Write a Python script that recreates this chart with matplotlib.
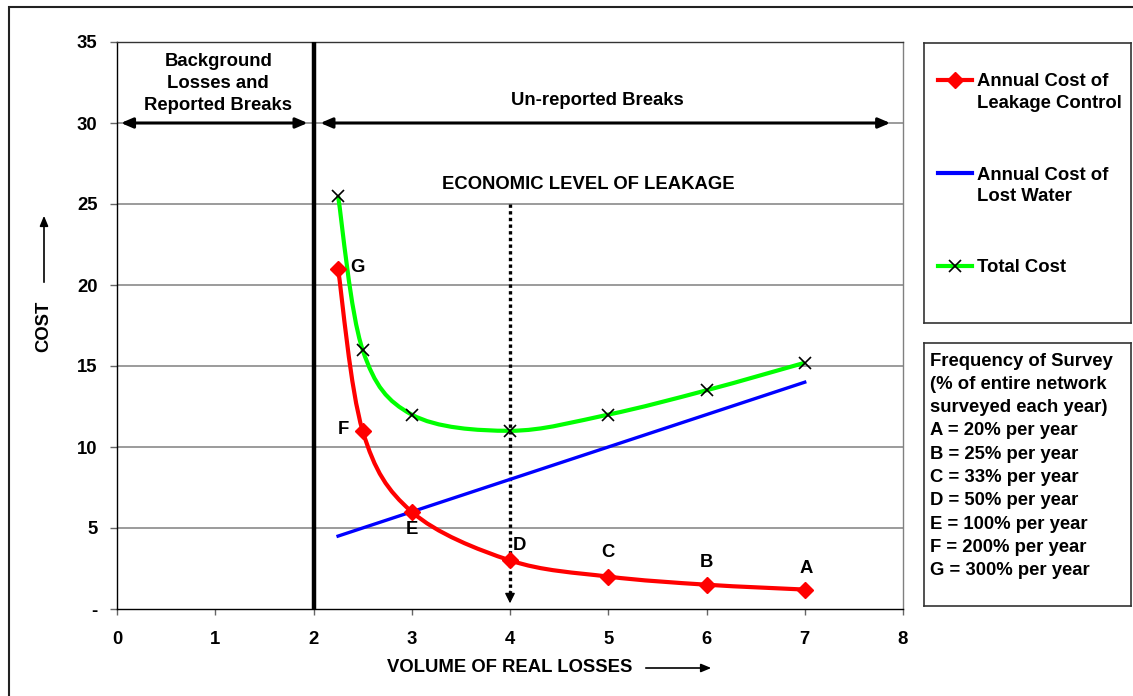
import matplotlib.pyplot as plt
import numpy as np
from matplotlib.path import Path
from matplotlib.patches import PathPatch, Rectangle

plt.rcParams['font.family'] = ['Liberation Sans', 'DejaVu Sans']
plt.rcParams['font.weight'] = 'bold'

# Data
volume = [2.25, 2.5, 3, 4, 5, 6, 7]
leakage_control = [21, 11, 6, 3, 2, 1.5, 1.2]
lost_water = [4.5, 5, 6, 8, 10, 12, 14]
total_cost = [25.5, 16, 12, 11, 12, 13.5, 15.2]
point_labels = ['G', 'F', 'E', 'D', 'C', 'B', 'A']
label_offsets = [(0.2, 0.05), (-0.2, 0.05), (0.0, -1.1), (0.1, 0.9), (0.0, 1.5), (0.0, 1.35), (0.01, 1.3)]
survey_lines = ['Frequency of Survey', '(% of entire network', 'surveyed each year)',
                'A = 20% per year', 'B = 25% per year', 'C = 33% per year',
                'D = 50% per year', 'E = 100% per year', 'F = 200% per year',
                'G = 300% per year']

W, H = 1133, 696
FS = 13.3


def smooth_path(xs, ys):
    # excel-style smoothed line: cubic bezier through every point
    pts = np.column_stack([xs, ys]).astype(float)
    n = len(pts)
    verts = [pts[0]]
    codes = [Path.MOVETO]
    for i in range(n - 1):
        p0 = pts[i - 1] if i > 0 else pts[i]
        p1, p2 = pts[i], pts[i + 1]
        p3 = pts[i + 2] if i + 2 < n else pts[i + 1]
        verts += [p1 + (p2 - p0) / 6, p2 - (p3 - p1) / 6, p2]
        codes += [Path.CURVE4] * 3
    return Path(verts, codes)


fig = plt.figure(figsize=(W / 100, H / 100), dpi=100)
ax = fig.add_axes([117 / W, 1 - 609 / H, (903 - 117) / W, (609 - 42) / H])

# outer frame
fig.add_artist(Rectangle((9 / W, -0.2), 2, 1.2 - 7 / H, transform=fig.transFigure,
                         fill=False, ec='#222222', lw=1.5))

ax.set_xlim(0, 8)
ax.set_ylim(0, 35)
ax.set_xticks(range(0, 9))
ax.set_yticks(range(0, 36, 5))
ax.set_yticklabels(['-'] + [str(v) for v in range(5, 36, 5)])
ax.tick_params(axis='y', direction='out', length=5, width=1, color='#666666', pad=9, labelsize=FS)
ax.tick_params(axis='x', direction='out', length=4, width=1, color='#666666', pad=12, labelsize=FS)
for v in range(5, 35, 5):
    ax.axhline(v, color='#808080', lw=1.1, zorder=0)
ax.spines['left'].set_color('black')
ax.spines['bottom'].set_color('black')
ax.spines['top'].set_color('#333333')
ax.spines['right'].set_color('#808080')
for s in ax.spines.values():
    s.set_linewidth(1)

# boundary between regions
ax.axvline(2, color='black', lw=3.2, zorder=3)

# region arrows
arrow_kw = dict(arrowstyle='<|-|>,head_length=0.7,head_width=0.3', color='black', lw=2.2,
                shrinkA=0, shrinkB=0)
ax.annotate('', xy=(0.04, 30), xytext=(1.94, 30), arrowprops=arrow_kw)
ax.annotate('', xy=(2.07, 30), xytext=(7.87, 30), arrowprops=arrow_kw)
ax.text(1.03, 32.45, 'Background\nLosses and\nReported Breaks', ha='center', va='center',
        fontsize=FS, linespacing=1.38)
ax.text(4.89, 31.4, 'Un-reported Breaks', ha='center', va='center', fontsize=FS)

# economic level of leakage
ax.text(4.8, 26.2, 'ECONOMIC LEVEL OF LEAKAGE', ha='center', va='center', fontsize=FS)
ax.plot([4, 4], [25, 0.9], color='black', lw=2.4, linestyle=(0, (1, 1)), zorder=2)
ax.annotate('', xy=(4, 0.35), xytext=(4, 1.1),
            arrowprops=dict(arrowstyle='-|>,head_length=0.6,head_width=0.3', color='black',
                            lw=1, shrinkA=0, shrinkB=0))

# series
ax.add_patch(PathPatch(smooth_path(volume, total_cost), fill=False, ec='#00ff00', lw=3, zorder=4))
ax.plot(volume, total_cost, linestyle='none', marker='x', ms=9, mew=1.2, color='black', zorder=6)
ax.plot(volume, lost_water, color='#0000ff', lw=2.4, zorder=4)
ax.add_patch(PathPatch(smooth_path(volume, leakage_control), fill=False, ec='#ff0000', lw=3, zorder=5))
ax.plot(volume, leakage_control, linestyle='none', marker='D', ms=8.5, color='#ff0000', zorder=6)

for x, y, lab, (dx, dy) in zip(volume, leakage_control, point_labels, label_offsets):
    ax.text(x + dx, y + dy, lab, ha='center', va='center', fontsize=FS)

# axis titles with arrows
fig.text(44 / W, 1 - 326 / H, 'COST', rotation=90, ha='center', va='center', fontsize=FS)
ax.annotate('', xy=(44 / W, 1 - 213 / H), xytext=(44 / W, 1 - 285 / H),
            xycoords='figure fraction', textcoords='figure fraction',
            arrowprops=dict(arrowstyle='-|>,head_length=0.6,head_width=0.25', color='black', lw=1.2))
fig.text(510 / W, 1 - 668 / H, 'VOLUME OF REAL LOSSES', ha='center', va='center', fontsize=FS)
ax.annotate('', xy=(714 / W, 1 - 668 / H), xytext=(643 / W, 1 - 668 / H),
            xycoords='figure fraction', textcoords='figure fraction',
            arrowprops=dict(arrowstyle='-|>,head_length=0.6,head_width=0.25', color='black', lw=1.2))

# legend box
lg = fig.add_axes([924 / W, 1 - 323 / H, 207 / W, 280 / H])
lg.set_xlim(0, 207)
lg.set_ylim(280, 0)
lg.set_xticks([])
lg.set_yticks([])
for s in lg.spines.values():
    s.set_color('#333333')
    s.set_linewidth(1.2)
lg.plot([14, 48], [37, 37], color='#ff0000', lw=3)
lg.plot([31], [37], marker='D', ms=8.5, color='#ff0000')
lg.text(53, 49.5, 'Annual Cost of\nLeakage Control', va='center', fontsize=FS, linespacing=1.36)
lg.plot([14, 48], [130, 130], color='#0000ff', lw=3)
lg.text(53, 143, 'Annual Cost of\nLost Water', va='center', fontsize=FS, linespacing=1.36)
lg.plot([14, 48], [223, 223], color='#00ff00', lw=3)
lg.plot([31], [223], marker='x', ms=9, mew=1.2, color='black')
lg.text(53, 225, 'Total Cost', va='center', fontsize=FS)

# survey frequency box
sb = fig.add_axes([924 / W, 1 - 606 / H, 207 / W, 263 / H])
sb.set_xlim(0, 207)
sb.set_ylim(263, 0)
sb.set_xticks([])
sb.set_yticks([])
for s in sb.spines.values():
    s.set_color('#333333')
    s.set_linewidth(1.2)
for i, line in enumerate(survey_lines):
    sb.text(6, 18 + i * 23.3, line, va='center', fontsize=FS)

fig.savefig('out.png', dpi=100)
